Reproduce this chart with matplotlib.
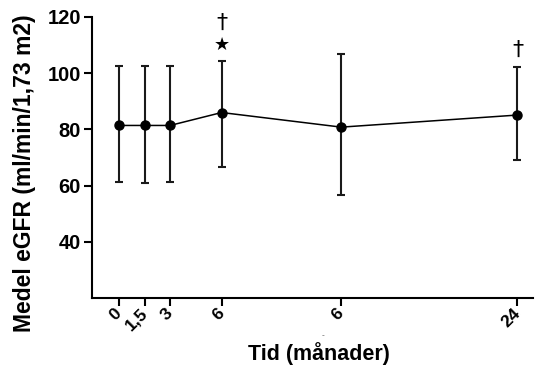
import matplotlib.pyplot as plt
from matplotlib.transforms import ScaledTranslation

# positions along the time axis, and their labels
x_pos = [0, 1.6, 3.1, 6.2, 13.4, 24]
x_labels = ["0", "1,5", "3", "6", "6", "24"]

# mean eGFR and error bar ends
mean = [81.4, 81.4, 81.4, 86.0, 80.8, 85.1]
upper = [102.4, 102.6, 102.6, 104.3, 106.9, 102.3]
lower = [61.3, 61.1, 61.2, 66.7, 56.8, 69.2]

yerr = [[m - lo for m, lo in zip(mean, lower)],
        [hi - m for m, hi in zip(mean, upper)]]

plt.rcParams['font.family'] = ['Liberation Sans', 'DejaVu Sans']

fig = plt.figure(figsize=(5.39, 3.69), dpi=100)
ax = fig.add_axes([0.1707, 0.1924, 0.989 - 0.1707, 0.954 - 0.1924])

ax.errorbar(x_pos, mean, yerr=yerr, fmt='none', ecolor='#1a1a1a',
            elinewidth=1.5, capsize=3, capthick=1.5)
ax.plot(x_pos, mean, color='black', lw=1.1, marker='o', ms=6.5)

ax.set_xlim(-1.6, 24.94)
ax.set_ylim(20, 120)
ax.set_yticks([40, 60, 80, 100, 120])
ax.set_xticks(x_pos)
ax.set_xticklabels(x_labels, rotation=45, ha='right', va='center',
                   rotation_mode='anchor', fontweight='bold', fontsize=12.5)
shift = ScaledTranslation(7 / 100, -6 / 100, fig.dpi_scale_trans)
for lab in ax.get_xticklabels():
    lab.set_transform(lab.get_transform() + shift)
for lab in ax.get_yticklabels():
    lab.set_fontweight('bold')
    lab.set_fontsize(14.5)

for s in ['top', 'right']:
    ax.spines[s].set_visible(False)
for s in ['left', 'bottom']:
    ax.spines[s].set_linewidth(1.5)
ax.tick_params(width=1.5, length=6, direction='out')
ax.tick_params(axis='y', pad=2)

ax.set_xlabel("Tid (månader)", fontweight='bold', fontsize=15.5, va='center')
ax.xaxis.set_label_coords(0.514, -0.196)
ax.set_ylabel("Medel eGFR (ml/min/1,73 m2)", fontweight='bold', fontsize=16.5, va='center')
ax.yaxis.set_label_coords(-0.152, 0.443)

# significance markers
ax.text(x_pos[3], 118, "†", ha='center', va='center', fontsize=16, family='DejaVu Sans')
ax.text(x_pos[3], 110.2, "★", ha='center', va='center', fontsize=13, family='DejaVu Sans')
ax.text(x_pos[5], 108.2, "†", ha='center', va='center', fontsize=16, family='DejaVu Sans')

# small stray dash under the second "6"
fig.text(323 / 539, 1 - 336 / 369, "-", ha='center', va='center', fontsize=6, color='#555555')

fig.savefig("out.png", dpi=100)
